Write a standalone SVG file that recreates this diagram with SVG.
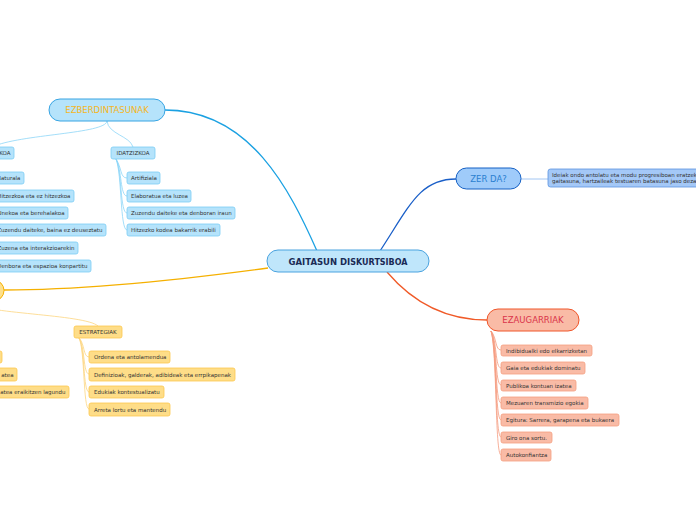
<svg xmlns="http://www.w3.org/2000/svg" width="696" height="520" viewBox="0 0 696 520">
<style>
text{font-family:"DejaVu Sans","Verdana",sans-serif}
.main{font-size:8.5px}
.sub{font-size:5.5px;fill:#333}
.bm{fill:#b5e3fb;stroke:#38a5e3;stroke-width:1}
.bc{fill:#b5e3fb;stroke:#7ccdf5;stroke-width:0.8}
.yc{fill:#fedd88;stroke:#fcc84e;stroke-width:0.8}
.sc{fill:#f9bba6;stroke:#f5a080;stroke-width:0.8}
.lb{fill:none;stroke:#8dd5f7;stroke-width:0.8}
.ly{fill:none;stroke:#fdd680;stroke-width:0.8}
.ls{fill:none;stroke:#f59c80;stroke-width:0.8}
</style>
<rect width="696" height="520" fill="#fff"/>
<g id="connectors">
<path d="M317 251 C290 190 250 110 165 110" fill="none" stroke="#1ba1e2" stroke-width="1.3"/>
<path d="M380 251 C410 205 420 179 456 179" fill="none" stroke="#1a5fc8" stroke-width="1.3"/>
<path d="M387 272 C415 305 450 320 487 320" fill="none" stroke="#f05a28" stroke-width="1.3"/>
<path d="M268 268 C150 284 60 290 4 290" fill="none" stroke="#f5b000" stroke-width="1.3"/>
<path d="M521 179 L548 179" fill="none" stroke="#8cb8f0" stroke-width="0.8"/>
<path d="M107 121 C108 134 130 136 133 147" class="lb"/>
<path d="M107 121 C106 134 20 134 -8 147" class="lb"/>
<path d="M116 159 C122 168 120 178 127 178" class="lb"/>
<path d="M116 159 C122 170 120 196 127 196" class="lb"/>
<path d="M116 159 C122 172 120 213 127 213" class="lb"/>
<path d="M116 159 C122 174 120 230 127 230" class="lb"/>
<path d="M-30 302 C-20 314 85 314 98 326" class="ly"/>
<path d="M79 338 C85 344 83 357 89 357" class="ly"/>
<path d="M79 338 C85 346 83 374 89 374" class="ly"/>
<path d="M79 338 C85 348 83 392 89 392" class="ly"/>
<path d="M79 338 C85 350 83 409 89 409" class="ly"/>
<path d="M491 331 C497 338 495 350 501 350" class="ls"/>
<path d="M491 331 C497 340 495 368 501 368" class="ls"/>
<path d="M491 331 C497 342 495 385 501 385" class="ls"/>
<path d="M491 331 C497 344 495 403 501 403" class="ls"/>
<path d="M491 331 C497 346 495 420 501 420" class="ls"/>
<path d="M491 331 C497 348 495 437 501 437" class="ls"/>
<path d="M491 331 C497 350 495 455 501 455" class="ls"/>
</g>
<g id="center">
<rect x="267" y="250" width="162" height="22" rx="11" fill="#bfe6fb" stroke="#4aa3df"/>
<text x="348" y="264.5" text-anchor="middle" font-weight="bold" fill="#1a2a55" font-size="8.5"><tspan>GAITASUN DI</tspan><tspan font-size="8">SKURTSIBOA</tspan></text>
</g>
<g id="ezberdintasunak">
<rect class="bm" x="49" y="99" width="116" height="22" rx="11"/>
<text class="main" x="107" y="113" text-anchor="middle" fill="#f5b623">EZBERDINTASUNAK</text>
</g>
<g id="ahozkoa"><rect class="bc" x="-40" y="147" width="54" height="12" rx="2"/><text class="sub" x="10.5" y="155" text-anchor="end">AHOZKOA</text></g>
<g id="idatzizkoa"><rect class="bc" x="111" y="147" width="44" height="12" rx="2"/><text class="sub" x="133" y="155" text-anchor="middle">IDATZIZKOA</text></g>
<g id="a1"><rect class="bc" x="-40" y="172" width="64" height="12" rx="2"/><text class="sub" x="20.5" y="180" text-anchor="end">Naturala</text></g>
<g id="a2"><rect class="bc" x="-40" y="190" width="114" height="12" rx="2"/><text class="sub" x="70.5" y="198" text-anchor="end">Hitzezkoa eta ez hitzezkoa</text></g>
<g id="a3"><rect class="bc" x="-40" y="207" width="108" height="12" rx="2"/><text class="sub" x="64.5" y="215" text-anchor="end">Unekoa eta berehalakoa</text></g>
<g id="a4"><rect class="bc" x="-40" y="224" width="146" height="12" rx="2"/><text class="sub" x="102.5" y="232" text-anchor="end">Zuzendu daiteke, baina ez deuseztatu</text></g>
<g id="a5"><rect class="bc" x="-40" y="242" width="118" height="12" rx="2"/><text class="sub" x="74.5" y="250" text-anchor="end">Zuzena eta interakzioarekin</text></g>
<g id="a6"><rect class="bc" x="-40" y="260" width="131" height="12" rx="2"/><text class="sub" x="87.5" y="268" text-anchor="end">Denbora eta espazioa konpartitu</text></g>
<g id="i1"><rect class="bc" x="127" y="172" width="33" height="12" rx="2"/><text class="sub" x="131" y="180">Artifiziala</text></g>
<g id="i2"><rect class="bc" x="127" y="190" width="64" height="12" rx="2"/><text class="sub" x="131" y="198">Elaboratua eta luzea</text></g>
<g id="i3"><rect class="bc" x="127" y="207" width="108" height="12" rx="2"/><text class="sub" x="131" y="215">Zuzendu daiteke eta denboran iraun</text></g>
<g id="i4"><rect class="bc" x="127" y="224" width="93" height="12" rx="2"/><text class="sub" x="131" y="232">Hitzezko kodea bakarrik erabili</text></g>
<g id="zerda">
<rect x="456" y="168" width="65" height="21" rx="10.5" fill="#9fcbfa" stroke="#1560c4"/>
<text class="main" x="488.5" y="182" text-anchor="middle" fill="#2a7fd0">ZER DA?</text>
</g>
<g id="zerda-def">
<rect x="548" y="169" width="180" height="18" rx="2.5" fill="#a4c8f7" stroke="#5b93e0" stroke-width="0.8"/>
<text class="sub" x="552" y="176.5" fill="#22263a" font-size="5.3"><tspan x="552">Ideiak ondo antolatu eta modu progresiboan eratzeko</tspan><tspan x="552" dy="6.5">gaitasuna, hartzaileak testuaren batasuna jaso dezan.</tspan></text>
</g>
<g id="ezaugarriak">
<rect x="487" y="309" width="92" height="22" rx="11" fill="#f9bba6" stroke="#f0562a"/>
<text class="main" x="533" y="323" text-anchor="middle" fill="#d9344a">EZAUGARRIAK</text>
</g>
<g id="e1"><rect class="sc" x="501" y="345" width="91" height="11" rx="2"/><text class="sub" x="506" y="352.5">Indibidualki edo elkarrizketan</text></g>
<g id="e2"><rect class="sc" x="501" y="362" width="84" height="12" rx="2"/><text class="sub" x="506" y="370">Gaia eta edukiak dominatu</text></g>
<g id="e3"><rect class="sc" x="501" y="380" width="75" height="11" rx="2"/><text class="sub" x="506" y="387.5">Publikoa kontuan izatea</text></g>
<g id="e4"><rect class="sc" x="501" y="397" width="87" height="12" rx="2"/><text class="sub" x="506" y="405">Mezuaren transmizio egokia</text></g>
<g id="e5"><rect class="sc" x="501" y="414" width="118" height="12" rx="2"/><text class="sub" x="506" y="422">Egitura: Sarrera, garapena eta bukaera</text></g>
<g id="e6"><rect class="sc" x="501" y="432" width="51" height="11" rx="2"/><text class="sub" x="506" y="439.5">Giro ona sortu.</text></g>
<g id="e7"><rect class="sc" x="501" y="449" width="50" height="12" rx="2"/><text class="sub" x="506" y="457">Autokonfiantza</text></g>
<g id="yellow-main"><rect x="-80" y="280" width="84" height="21" rx="10.5" fill="#fee08c" stroke="#f5b000"/></g>
<g id="estrategiak"><rect class="yc" x="74" y="326" width="48" height="12" rx="2"/><text class="sub" x="98" y="334" text-anchor="middle">ESTRATEGIAK</text></g>
<g id="s1"><rect class="yc" x="89" y="351" width="81" height="12" rx="2"/><text class="sub" x="94" y="359">Ordena eta antolamendua</text></g>
<g id="s2"><rect class="yc" x="89" y="368" width="146" height="13" rx="2"/><text class="sub" x="94" y="376.5">Definizioak, galderak, adibideak eta errpikapenak</text></g>
<g id="s3"><rect class="yc" x="89" y="386" width="75" height="12" rx="2"/><text class="sub" x="94" y="394">Edukiak kontestualizatu</text></g>
<g id="s4"><rect class="yc" x="89" y="403" width="81" height="13" rx="2"/><text class="sub" x="94" y="411.5">Arreta lortu eta mantendu</text></g>
<g id="y1"><rect class="yc" x="-60" y="351" width="62" height="12" rx="2"/></g>
<g id="y2"><rect class="yc" x="-60" y="368" width="77" height="13" rx="2"/><text class="sub" x="13.5" y="376.5" text-anchor="end">atea</text></g>
<g id="y3"><rect class="yc" x="-60" y="386" width="129" height="12" rx="2"/><text class="sub" x="65.5" y="394" text-anchor="end">atea eraikitzen lagundu</text></g>
</svg>
